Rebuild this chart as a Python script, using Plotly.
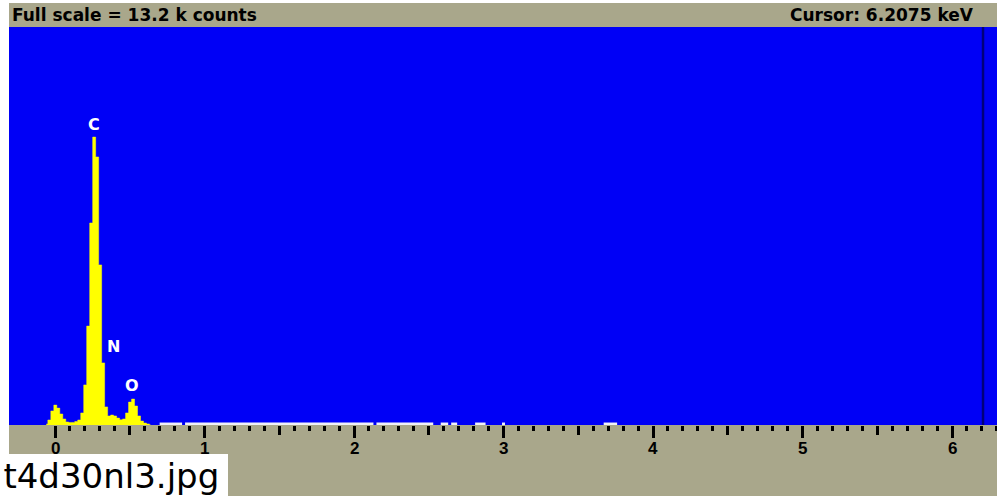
import plotly.graph_objects as go

# ---- spectrum data -------------------------------------------------------
FULL_SCALE = 13200          # counts at the top of the display
CURSOR_KEV = 6.2075         # cursor position, keV

# channel centres (keV) and counts, 20 eV channels over the light-element region
channel_keV = [-0.058, -0.038, -0.018, 0.002, 0.022, 0.042, 0.062, 0.082,
               0.102, 0.122, 0.142, 0.162, 0.182, 0.202, 0.222, 0.242,
               0.262, 0.282, 0.302, 0.322, 0.342, 0.362, 0.382, 0.402,
               0.422, 0.442, 0.462, 0.482, 0.502, 0.522, 0.542, 0.562,
               0.582, 0.602, 0.622, 0.642]
counts = [33, 166, 465, 660, 560, 365, 200, 100,
          85, 85, 115, 166, 400, 1330, 3280, 6700,
          9550, 8890, 5310, 2060, 600, 300, 330, 300,
          230, 170, 200, 400, 760, 860, 630, 300,
          130, 65, 35, 0]

# low-level background stretches above 0.7 keV (start, end in keV) and level
bg_start = [0.70, 0.87, 2.15, 2.58, 2.65, 2.81, 2.99, 3.67]
bg_end = [0.85, 2.13, 2.53, 2.63, 2.69, 2.88, 3.01, 3.76]
bg_level = 40

# element markers
element_names = ["C", "N", "O"]
element_keV = [0.262, 0.39, 0.517]
element_label_counts = [9950, 2590, 1294]

tick_values = [0, 1, 2, 3, 4, 5, 6]
tick_labels = ["0", "1", "2", "3", "4", "5", "6"]

# ---- page geometry (pixels) ---------------------------------------------
W, H = 997, 496
L, T, B = 9, 27, 71
PLOT_W = W - L
PLOT_H = H - T - B
KEV_PER_PX = 1 / 149.5
X0 = -(55 - L) * KEV_PER_PX
X1 = X0 + PLOT_W * KEV_PER_PX

BLUE = "#0000f6"
GREY = "#a9a78b"


def px_x(px):
    return (px - L) / PLOT_W


def px_y(py):
    return (H - B - py) / PLOT_H


fig = go.Figure()

# histogram drawn as a filled step outline
fig.add_trace(go.Scatter(
    x=channel_keV, y=counts, mode="lines",
    line=dict(shape="hvh", color="#ffff00", width=0.5),
    fill="tozeroy", fillcolor="#ffff00",
    hoverinfo="skip", showlegend=False,
))

bx, by = [], []
for s, e in zip(bg_start, bg_end):
    bx += [s, e, None]
    by += [bg_level, bg_level, None]
fig.add_trace(go.Scatter(
    x=bx, y=by, mode="lines", line=dict(color="#f0f0f8", width=2.5),
    hoverinfo="skip", showlegend=False,
))

fig.add_trace(go.Scatter(
    x=[CURSOR_KEV, CURSOR_KEV], y=[0, FULL_SCALE], mode="lines",
    line=dict(color="#00007a", width=2.5), xaxis="x2",
    hoverinfo="skip", showlegend=False,
))

minor_vals = [round(i * 0.1, 1) for i in range(1, 64) if i % 5 != 0]
half_vals = [v + 0.5 for v in tick_values]

fig.update_layout(
    width=W, height=H,
    margin=dict(l=L, r=0, t=T, b=B, pad=0),
    paper_bgcolor="white", plot_bgcolor=BLUE,
    showlegend=False,
    xaxis=dict(
        range=[X0, X1], showgrid=False, zeroline=False, showline=False,
        tickmode="array", tickvals=tick_values, showticklabels=False,
        ticks="outside", ticklen=12, tickwidth=3, tickcolor="black",
        minor=dict(tickmode="array", tickvals=minor_vals, ticks="outside",
                   ticklen=5, tickwidth=2.5, tickcolor="black", showgrid=False),
        fixedrange=True,
    ),
    xaxis2=dict(
        range=[X0, X1], overlaying="x", anchor="y", side="bottom",
        showgrid=False, zeroline=False, showline=False, showticklabels=False,
        tickmode="array", tickvals=half_vals,
        ticks="outside", ticklen=9, tickwidth=2.5, tickcolor="black",
        fixedrange=True,
    ),
    yaxis=dict(range=[0, FULL_SCALE], visible=False, fixedrange=True),
)

shapes = [
    # status bar along the top
    dict(type="rect", xref="paper", yref="paper", x0=0, x1=1,
         y0=px_y(T), y1=px_y(3), fillcolor=GREY, line=dict(width=0), layer="below"),
    # energy scale strip
    dict(type="rect", xref="paper", yref="paper", x0=0, x1=1,
         y0=px_y(H), y1=0, fillcolor=GREY, line=dict(width=0), layer="below"),
]
fig.update_layout(shapes=shapes)

# energy scale numbers, placed under the major ticks
annotations = []
for v, lab in zip(tick_values, tick_labels):
    annotations.append(dict(
        text=lab, x=v, y=px_y(448), xref="x", yref="paper",
        xanchor="center", yanchor="middle", showarrow=False,
        font=dict(family="Liberation Sans", size=17, color="black", weight="bold"),
    ))

# file name box sits on top of the scale numbers
annotations.append(dict(
    text="\u200at4d30nl3.jpg", xref="paper", yref="paper",
    x=px_x(0), y=px_y(H + 1), xanchor="left", yanchor="bottom",
    showarrow=False, bgcolor="white", borderpad=0, borderwidth=0,
    width=228, height=43, align="left", valign="middle",
    font=dict(family="DejaVu Sans", size=34, color="black"),
))

status_font = dict(family="DejaVu Sans", size=17, color="black", weight="bold")
annotations += [
    dict(text=f"Full scale = {FULL_SCALE / 1000:.1f} k counts", xref="paper", yref="paper",
         x=px_x(10), y=px_y(15), xanchor="left", yanchor="middle",
         showarrow=False, font=status_font),
    dict(text=f"Cursor: {CURSOR_KEV:.4f} keV", xref="paper", yref="paper",
         x=px_x(976), y=px_y(15), xanchor="right", yanchor="middle",
         showarrow=False, font=status_font),
]
for name, e, c in zip(element_names, element_keV, element_label_counts):
    annotations.append(dict(
        text=name, x=e, y=c, xref="x", yref="y", xanchor="center", yanchor="middle",
        showarrow=False, font=dict(family="DejaVu Sans", size=16, color="white", weight="bold"),
    ))
fig.update_layout(annotations=annotations)

fig.write_html("out.html")
